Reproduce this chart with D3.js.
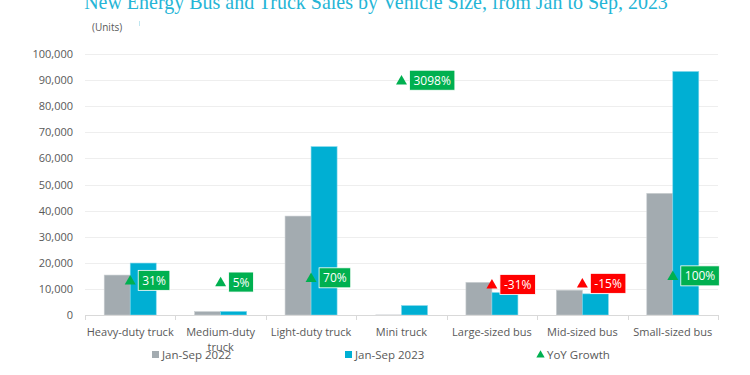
<!DOCTYPE html>
<html>
<head>
<meta charset="utf-8">
<script src="https://cdn.jsdelivr.net/npm/d3@7"></script>
<style>
  body { margin: 0; background: #fff; }
  text { font-family: "Open Sans", "Noto Sans", sans-serif; }
</style>
</head>
<body>
<div id="chart"></div>
<script>
var width = 750,
    height = 375;

var margin = {top: 54, right: 32, bottom: 60, left: 85};

// values (units)
var categories = ["Heavy-duty truck", "Medium-duty truck", "Light-duty truck", "Mini truck",
                  "Large-sized bus", "Mid-sized bus", "Small-sized bus"];
var series = ["Jan-Sep 2022", "Jan-Sep 2023"];
var sales2022 = [15300, 1300, 37900, 110, 12500, 9500, 46600];
var sales2023 = [19900, 1370, 64500, 3600, 8600, 8100, 93300];
var growth = [31, 5, 70, 3098, -31, -15, 100];   // YoY %
var yTicks = [0, 10000, 20000, 30000, 40000, 50000, 60000, 70000, 80000, 90000, 100000];

var colors = ["#a3abb0", "#00afd3"];
var up = "#00b050", down = "#ff0000";

var svg = d3.select("#chart").append("svg")
    .attr("width", width)
    .attr("height", height);

var x = d3.scaleBand()
    .domain(categories)
    .range([margin.left, width - margin.right]);

var x1 = d3.scaleBand()
    .domain(series)
    .range([0, 52]);

var y = d3.scaleLinear()
    .domain([0, 100000])
    .range([height - margin.bottom, margin.top]);

// hidden secondary axis for the growth markers
var y2 = d3.scaleLinear()
    .domain([-500, 3500])
    .range([height - margin.bottom, margin.top]);

// title, cut off at the top like the original
var title = svg.append("text")
    .attr("x", 376)
    .attr("y", 9)
    .attr("text-anchor", "middle")
    .style("font-family", "'Liberation Serif', 'DejaVu Serif', serif")
    .style("font-size", "20px")
    .attr("fill", "#25b5d6")
    .text("New Energy Bus and Truck Sales by Vehicle Size, from Jan to Sep, 2023");
var tw = title.node().getComputedTextLength();
title.style("font-size", (20 * 584 / tw) + "px");

svg.append("text")
    .attr("x", 92)
    .attr("y", 31)
    .attr("fill", "#595959")
    .style("font-size", "10px")
    .text("(Units)");

svg.append("line")
    .attr("x1", 139.5).attr("x2", 139.5)
    .attr("y1", 21).attr("y2", 26)
    .attr("stroke", "#bfe6f0");

// gridlines
svg.append("g")
    .selectAll("line")
    .data(yTicks.slice(1))
    .enter()
    .append("line")
    .attr("x1", margin.left)
    .attr("x2", width - margin.right)
    .attr("y1", function(d) { return Math.round(y(d)) + 0.5; })
    .attr("y2", function(d) { return Math.round(y(d)) + 0.5; })
    .attr("stroke", "#eeeeee");

// y axis labels
var yAxis = svg.append("g")
    .attr("transform", "translate(" + (margin.left - 12) + ",0)")
    .call(d3.axisLeft(y).tickValues(yTicks).tickFormat(d3.format(",")).tickSize(0).tickPadding(0));
yAxis.select(".domain").remove();
yAxis.selectAll("text")
    .attr("fill", "#595959")
    .style("font-size", "11px")
    .style("font-family", "'Open Sans', sans-serif");

// bars
var table = categories.map(function(c, i) {
    return {cat: c, values: [sales2022[i], sales2023[i]], growth: growth[i]};
});
var off = (x.bandwidth() - 52) / 2;

var groups = svg.append("g")
    .selectAll("g")
    .data(table)
    .enter()
    .append("g")
    .attr("transform", function(d) { return "translate(" + (x(d.cat) + off) + ",0)"; });

groups.selectAll("rect")
    .data(function(d) { return d.values.map(function(v, j) { return {s: series[j], v: v, j: j}; }); })
    .enter()
    .append("rect")
    .attr("x", function(d) { return x1(d.s); })
    .attr("width", x1.bandwidth())
    .attr("y", function(d) { return y(d.v); })
    .attr("height", function(d) { return y(0) - y(d.v); })
    .attr("fill", function(d) { return colors[d.j]; })
    .attr("stroke", function(d) {
        if (y(0) - y(d.v) < 1) return "none";
        return d.j ? "#7fd6ea" : "#c8cdd0";
    })
    .attr("stroke-width", 0.6);

// x axis
var xAxis = svg.append("g")
    .attr("transform", "translate(0," + y(0) + ")");
xAxis.append("line")
    .attr("x1", margin.left).attr("x2", width - margin.right)
    .attr("y1", 0.5).attr("y2", 0.5)
    .attr("stroke", "#d9d9d9");
xAxis.selectAll(".tk")
    .data(categories.concat(["end"]))
    .enter()
    .append("line")
    .attr("class", "tk")
    .attr("x1", function(d, i) { return Math.round(margin.left + i * x.bandwidth()) + 0.5; })
    .attr("x2", function(d, i) { return Math.round(margin.left + i * x.bandwidth()) + 0.5; })
    .attr("y1", 0).attr("y2", 5)
    .attr("stroke", "#d9d9d9");

// category labels, wrapped to the band
var labels = xAxis.selectAll(".lab")
    .data(categories)
    .enter()
    .append("text")
    .attr("class", "lab")
    .attr("x", function(d) { return x(d) + x.bandwidth() / 2; })
    .attr("y", 21)
    .attr("text-anchor", "middle")
    .attr("fill", "#595959")
    .style("font-size", "11px");

labels.each(function(d) {
    var t = d3.select(this);
    var words = d.split(" ");
    var line = [];
    var tspan = t.append("tspan").attr("x", x(d) + x.bandwidth() / 2).attr("dy", 0);
    words.forEach(function(w) {
        line.push(w);
        tspan.text(line.join(" "));
        if (tspan.node().getComputedTextLength() > x.bandwidth() && line.length > 1) {
            line.pop();
            tspan.text(line.join(" "));
            line = [w];
            tspan = t.append("tspan").attr("x", x(d) + x.bandwidth() / 2).attr("dy", 15).text(w);
        }
    });
});

// growth markers
var tri = d3.symbol().type(d3.symbolTriangle).size(52);

var marks = svg.append("g")
    .selectAll("g")
    .data(table)
    .enter()
    .append("g")
    .attr("transform", function(d) {
        return "translate(" + (x(d.cat) + x.bandwidth() / 2) + "," + y2(d.growth) + ")";
    });

marks.append("path")
    .attr("d", tri)
    .attr("transform", "translate(0,1)")
    .attr("fill", function(d) { return d.growth >= 0 ? up : down; });

marks.each(function(d) {
    var g = d3.select(this);
    var c = d.growth >= 0 ? up : down;
    var box = g.append("rect")
        .attr("x", 8)
        .attr("y", -10)
        .attr("height", 20)
        .attr("fill", c)
        .attr("stroke", "#ffffff")
        .attr("stroke-width", 0.8);
    var t = g.append("text")
        .attr("x", 12)
        .attr("y", 4.5)
        .attr("fill", "#ffffff")
        .style("font-size", "12px")
        .text(d.growth + "%");
    box.attr("width", t.node().getComputedTextLength() + 8);
});

// legend
var legend = [
    {name: series[0], color: colors[0], x: 152, shape: "sq"},
    {name: series[1], color: colors[1], x: 345, shape: "sq"},
    {name: "YoY Growth", color: up, x: 537, shape: "tri"}
];
var lg = svg.append("g")
    .selectAll("g")
    .data(legend)
    .enter()
    .append("g")
    .attr("transform", function(d) { return "translate(" + d.x + ",355)"; });

lg.filter(function(d) { return d.shape === "sq"; })
    .append("rect")
    .attr("x", 0).attr("y", -4)
    .attr("width", 7).attr("height", 7)
    .attr("fill", function(d) { return d.color; });

lg.filter(function(d) { return d.shape === "tri"; })
    .append("path")
    .attr("d", d3.symbol().type(d3.symbolTriangle).size(30))
    .attr("transform", "translate(3.5,0)")
    .attr("fill", function(d) { return d.color; });

lg.append("text")
    .attr("x", 10)
    .attr("y", 4)
    .attr("fill", "#595959")
    .style("font-size", "11.5px")
    .text(function(d) { return d.name; });
</script>
</body>
</html>
